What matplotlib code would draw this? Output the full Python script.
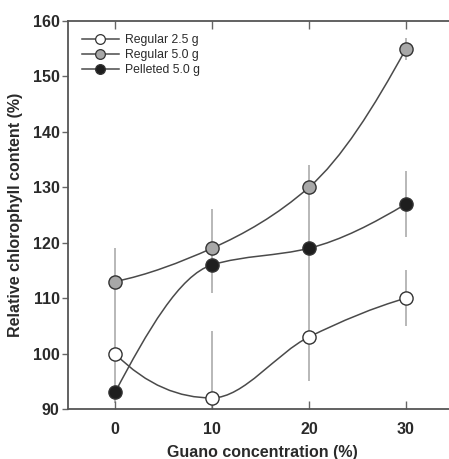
import numpy as np
import matplotlib
matplotlib.use("Agg")
import matplotlib.pyplot as plt
from matplotlib.path import Path
from matplotlib.patches import PathPatch
from matplotlib.lines import Line2D

plt.rcParams['font.family'] = ['Liberation Sans', 'DejaVu Sans']

# --- data ---
guano = [0, 10, 20, 30]
reg25 = [100, 92, 103, 110]
reg25_err = [7, 12, 8, 5]
reg50 = [113, 119, 130, 155]
reg50_err = [6, 7, 4, 2]
pel50 = [93, 116, 119, 127]
pel50_err = [2, 5, 10, 6]

series = [
    ("Regular 2.5 g", reg25, reg25_err, "white"),
    ("Regular 5.0 g", reg50, reg50_err, "#a8a8a8"),
    ("Pelleted 5.0 g", pel50, pel50_err, "#1e1e1e"),
]

C_TXT = "#2a2a2a"
C_LINE = "#4a4a4a"
C_ERR = "#b8b8b8"


def pchip_path(x, y):
    # smooth monotone curve through the points, as cubic bezier segments
    x = np.asarray(x, float)
    y = np.asarray(y, float)
    h = np.diff(x)
    d = np.diff(y) / h
    n = len(x)
    m = np.zeros(n)
    for k in range(1, n - 1):
        if d[k - 1] * d[k] > 0:
            w1 = 2 * h[k] + h[k - 1]
            w2 = h[k] + 2 * h[k - 1]
            m[k] = (w1 + w2) / (w1 / d[k - 1] + w2 / d[k])
    for k, (a, b, hh0, hh1) in ((0, (d[0], d[1], h[0], h[1])),
                                (n - 1, (d[-1], d[-2], h[-1], h[-2]))):
        s = ((2 * hh0 + hh1) * a - hh0 * b) / (hh0 + hh1)
        if np.sign(s) != np.sign(a):
            s = 0.0
        elif np.sign(a) != np.sign(b) and abs(s) > abs(3 * a):
            s = 3 * a
        m[k] = s
    verts = [(x[0], y[0])]
    codes = [Path.MOVETO]
    for i in range(n - 1):
        verts += [(x[i] + h[i] / 3, y[i] + m[i] * h[i] / 3),
                  (x[i + 1] - h[i] / 3, y[i + 1] - m[i + 1] * h[i] / 3),
                  (x[i + 1], y[i + 1])]
        codes += [Path.CURVE4] * 3
    return Path(verts, codes)


fig = plt.figure(figsize=(4.49, 4.59), dpi=100)
ax = fig.add_axes([0.1514, 0.1089, 0.864, 0.8453])

handles = []
for label, vals, err, fc in series:
    ax.errorbar(guano, vals, yerr=err, fmt='none', ecolor=C_ERR,
                elinewidth=1.4, capsize=0, zorder=1)
    ax.add_patch(PathPatch(pchip_path(guano, vals), fill=False,
                           edgecolor=C_LINE, lw=1.1, zorder=2))
    ax.plot(guano, vals, 'o', ms=9.5, mfc=fc, mec="#333333", mew=1.0,
            linestyle='none', zorder=3)
    handles.append(Line2D([], [], color=C_LINE, lw=1.1, marker='o', ms=7,
                          mfc=fc, mec="#333333", mew=0.9, label=label))

ax.set_xlim(-4.85, 35.15)
ax.set_ylim(90, 160)
ax.set_xticks(guano)
ax.set_yticks(np.arange(90, 161, 10))

for side in ('left', 'bottom', 'top'):
    ax.spines[side].set_linewidth(1.3)
    ax.spines[side].set_color("#555555")
ax.spines['right'].set_visible(False)

ax.tick_params(axis='x', direction='in', top=True, length=6, width=1.0,
               color="#666666", labelsize=11.5, labelcolor=C_TXT, pad=9)
ax.tick_params(axis='y', direction='out', length=4, width=1.0,
               color="#666666", labelsize=11.5, labelcolor=C_TXT, pad=2)
for t in ax.get_xticklabels() + ax.get_yticklabels():
    t.set_fontweight('bold')

ax.set_xlabel("Guano concentration (%)", fontsize=11.5, fontweight='bold',
              color=C_TXT, labelpad=6)
ax.set_ylabel("Relative chlorophyll content (%)", fontsize=11.5,
              fontweight='bold', color=C_TXT, labelpad=7)

leg = ax.legend(handles=handles, loc='upper left', bbox_to_anchor=(0.03, 0.972),
                frameon=False, fontsize=8.8, handlelength=3.0,
                handletextpad=0.5, labelspacing=0.25, borderaxespad=0,
                borderpad=0.2)
for t in leg.get_texts():
    t.set_color(C_TXT)

fig.savefig("out.png", dpi=100)
